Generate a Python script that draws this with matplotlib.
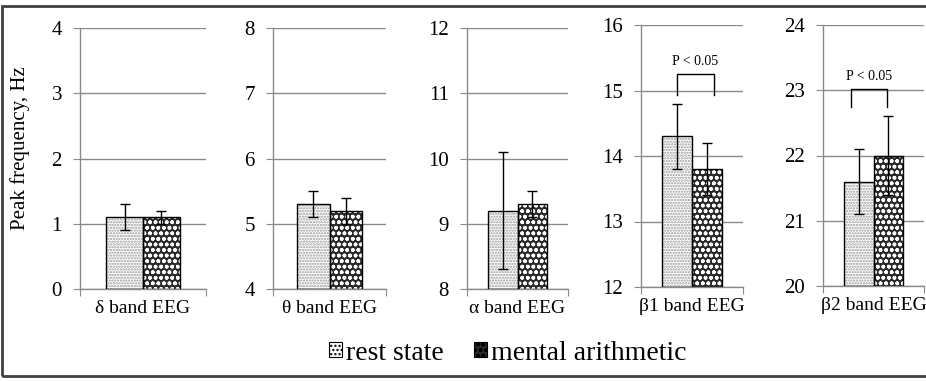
import matplotlib
matplotlib.use("Agg")
import matplotlib.pyplot as plt
from matplotlib.patches import Rectangle, Patch

plt.rcParams['font.family'] = ['Liberation Serif', 'DejaVu Serif']
plt.rcParams['hatch.linewidth'] = 1.1

# ---- data ----
bands = ["δ band EEG", "θ band EEG", "α band EEG", "β1 band EEG", "β2 band EEG"]
series = ["rest state", "mental arithmetic"]
rest_vals = [1.1, 5.3, 9.2, 14.3, 21.6]
rest_err = [0.2, 0.2, 0.9, 0.5, 0.5]
mental_vals = [1.1, 5.2, 9.3, 13.8, 22.0]
mental_err = [0.1, 0.2, 0.2, 0.4, 0.6]
y_min = [0, 4, 8, 12, 20]
y_max = [4, 8, 12, 16, 24]
sig_label = "P < 0.05"
sig_panels = [3, 4]
sig_bracket_y = [15.25, 23.02]
sig_leg_y = [14.93, 22.75]
sig_x = [(-0.147, 0.215), (-0.22, 0.13)]
sig_text_y = [15.44, 23.21]

W, H = 926, 381
fig = plt.figure(figsize=(W / 100, H / 100), dpi=100)

# panel positions in pixels: (left, right, top, bottom)
panels_px = [(80, 206, 28, 289), (273, 386, 28, 289), (467, 568, 28, 289),
             (641, 743, 25, 287), (823, 924, 25, 286)]

grid_c = "#8a8a8a"
rest_kw = dict(facecolor="white", edgecolor="#9a9a9a", hatch="......", lw=0)
mental_kw = dict(facecolor="#2a2a2a", edgecolor="white", hatch="ooo", lw=0)
bw = 0.29
for i, (l, r, t, b) in enumerate(panels_px):
    ax = fig.add_axes([l / W, 1 - b / H, (r - l) / W, (b - t) / H])
    ax.set_xlim(-0.5, 0.5)
    ax.set_ylim(y_min[i], y_max[i])
    ax.set_yticks(range(y_min[i], y_max[i] + 1))
    ax.yaxis.grid(True, color=grid_c, lw=1.0)
    ax.set_axisbelow(True)
    for s in ["top", "right"]:
        ax.spines[s].set_visible(False)
    for s in ["left", "bottom"]:
        ax.spines[s].set_color(grid_c)
        ax.spines[s].set_linewidth(1.0)
    ax.tick_params(axis="y", direction="out", length=5, color=grid_c, pad=8,
                   labelsize=15)
    ax.set_xticks([-0.5, 0.5])
    ax.set_xticklabels(["", ""])
    ax.set_xticks([0], minor=True)
    ax.set_xticklabels([bands[i]], minor=True, fontsize=14)
    ax.tick_params(axis="x", which="major", direction="out", length=5, color=grid_c)
    ax.tick_params(axis="x", which="minor", length=0, pad=8)

    ax.bar(-bw / 2, rest_vals[i] - y_min[i], bottom=y_min[i], width=bw,
           zorder=2, **rest_kw)
    ax.bar(bw / 2, mental_vals[i] - y_min[i], bottom=y_min[i], width=bw,
           zorder=2, **mental_kw)
    ax.bar([-bw / 2, bw / 2], [rest_vals[i] - y_min[i], mental_vals[i] - y_min[i]],
           bottom=y_min[i], width=bw, color="none", edgecolor="black", lw=1.0, zorder=3)
    ax.errorbar([-bw / 2, bw / 2], [rest_vals[i], mental_vals[i]],
                yerr=[rest_err[i], mental_err[i]], fmt="none", ecolor="black",
                elinewidth=1.0, capsize=3.5, capthick=1.0, zorder=4)

    if i in sig_panels:
        k = sig_panels.index(i)
        x0, x1 = sig_x[k]
        ax.plot([x0, x0, x1, x1], [sig_leg_y[k], sig_bracket_y[k], sig_bracket_y[k], sig_leg_y[k]],
                color="black", lw=1.0, zorder=4, clip_on=False)
        ax.text((x0 + x1) / 2, sig_text_y[k], sig_label, ha="center", va="center",
                fontsize=10, zorder=5)

# y label
fig.text(20 / W, 1 - 148 / H, "Peak frequency, Hz", rotation=90, ha="center",
         va="center", fontsize=15)

# legend
handles = [Patch(facecolor="white", edgecolor="#777777", hatch="....", lw=0.8),
           Patch(facecolor="#2a2a2a", edgecolor="white", hatch="ooo", lw=0.8)]
leg = fig.legend(handles, series, loc="center", bbox_to_anchor=(508 / W, 1 - 353 / H),
                 ncol=2, frameon=False, fontsize=20, handlelength=0.45, handleheight=0.45,
                 handletextpad=0.15, columnspacing=1.1)
for h in leg.legend_handles:
    h.set_edgecolor("black")

# outer frame
fig.patches.append(Rectangle((2 / W, 1 - 376 / H), 1.0, (376 - 6) / H,
                             transform=fig.transFigure, fill=False,
                             edgecolor="#404040", lw=2, zorder=10))

fig.savefig("out.png", dpi=100)
